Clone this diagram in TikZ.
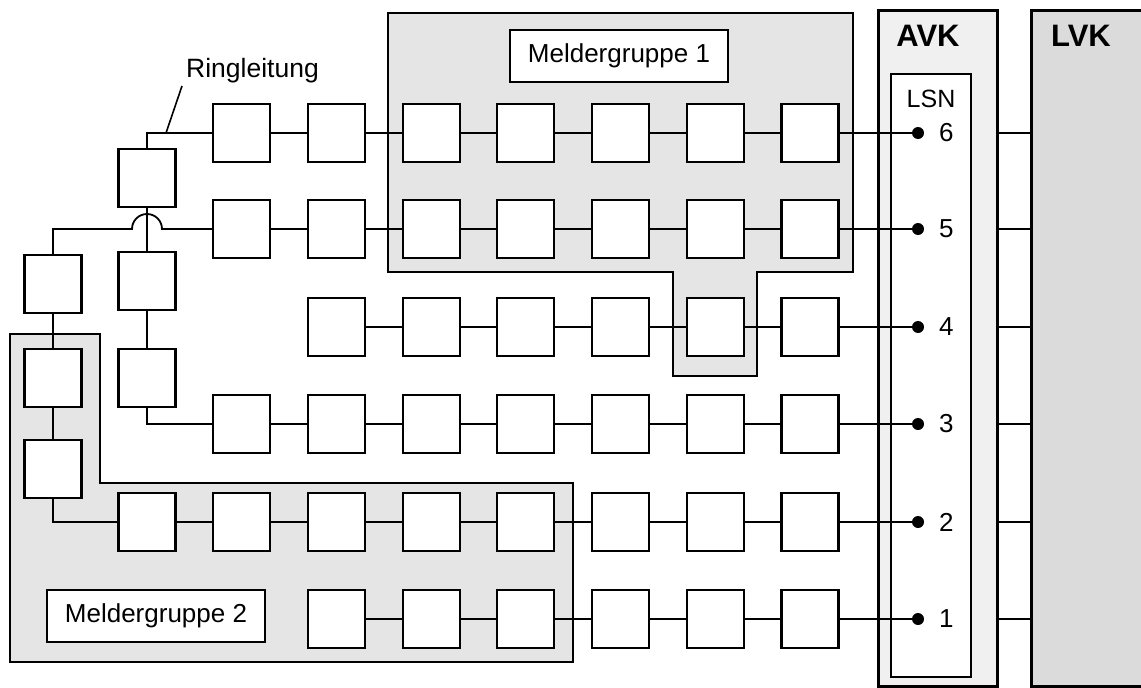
\documentclass[tikz,border=0pt]{standalone}
\usepackage{fontspec}
\setmainfont{Liberation Sans}
\begin{document}
\begin{tikzpicture}[x=1pt,y=-1pt,
  mbox/.style={draw, fill=white, line width=2.2pt, minimum width=57pt, minimum height=58pt, inner sep=0pt},
  wire/.style={line width=1.8pt},
  group/.style={draw, line width=2pt, fill=gray!20},
  lbl/.style={draw, fill=white, line width=1.6pt, minimum width=218pt, minimum height=52pt, inner sep=0pt, font=\fontsize{26}{31}\selectfont},
  dot/.style={circle, fill=black, inner sep=0pt, minimum size=12pt},
  num/.style={font=\fontsize{26}{30}\selectfont, inner sep=0pt},
  txt/.style={font=\fontsize{26.5}{31}\selectfont, inner sep=0pt}
]
\useasboundingbox (0,0) rectangle (1141,688);
% groups
\path[group] (388,13) -- (853,13) -- (853,272) -- (757,272) -- (757,376) -- (673,376) -- (673,272) -- (388,272) -- cycle;
\path[group] (10,334) -- (100,334) -- (100,483) -- (573,483) -- (573,662) -- (10,662) -- cycle;
% AVK, LSN, LVK
\node[draw, line width=3pt, fill=gray!12, minimum width=119pt, minimum height=676pt, inner sep=0pt] (avk) at (937.5,348) {};
\node[draw, line width=2.2pt, fill=white, minimum width=80pt, minimum height=603pt, inner sep=0pt] (lsn) at (931,375.5) {};
\node[draw, line width=3pt, fill=gray!28, minimum width=140pt, minimum height=676pt, inner sep=0pt] (lvk) at (1101,348) {};
\node[font=\bfseries\fontsize{31}{35}\selectfont, inner sep=0pt] (avklbl) at (928,36) {AVK};
\node[font=\bfseries\fontsize{31}{35}\selectfont, inner sep=0pt] (lvklbl) at (1081,36) {LVK};
\node[font=\fontsize{25}{29}\selectfont, inner sep=0pt] (lsnlbl) at (931,99) {LSN};
% labels
\node[lbl] (mg1) at (619,56) {Meldergruppe 1};
\node[lbl] (mg2) at (156,616) {Meldergruppe 2};
% row boxes
\foreach \r/\y/\f in {6/133/2,5/229/2,4/327/3,3/424/2,2/522/1,1/619/3}{
  \foreach \c in {\f,...,8}{
    \node[mbox] (r\r-\c) at ({147+(\c-1)*94.7},\y) {};
  }
  \node[dot] (d\r) at (918,\y) {};
  \node[num, anchor=west] (n\r) at (939,\y) {\r};
}
% left ring boxes
\node[mbox] (rb) at (147,178) {};
\node[mbox] (w1) at (147,281) {};
\node[mbox] (w2) at (147,378) {};
\node[mbox] (v1) at (53,284) {};
\node[mbox] (v2) at (53,378) {};
\node[mbox] (v3) at (53,469) {};
% row wires
\foreach \r/\f in {6/2,5/2,4/3,3/2,2/1,1/3}{
  \foreach \c [evaluate=\c as \n using int(\c+1)] in {\f,...,7}{
    \draw[wire] (r\r-\c.east) -- (r\r-\n.west);
  }
  \draw[wire] (r\r-8.east) -- (d\r);
  \draw[wire] (avk.east |- d\r) -- (lvk.west |- d\r);
}
% ring wiring
\draw[wire] (rb.north) |- (r6-2.west);
\draw[wire] (v1.north) |- (132,229) arc (180:360:15) -- (r5-2.west);
\draw[wire] (rb.south) -- (w1.north);
\draw[wire] (w1.south) -- (w2.north);
\draw[wire] (w2.south) |- (r3-2.west);
\draw[wire] (v1.south) -- (v2.north);
\draw[wire] (v2.south) -- (v3.north);
\draw[wire] (v3.south) |- (r2-1.west);
% Ringleitung label
\coordinate (tap) at (166,133);
\coordinate (leadend) at (182,86);
\node[txt, anchor=base west] (ringlbl) at (186,77) {Ringleitung};
\draw[line width=1.6pt] (tap) -- (leadend);
\end{tikzpicture}
\end{document}
